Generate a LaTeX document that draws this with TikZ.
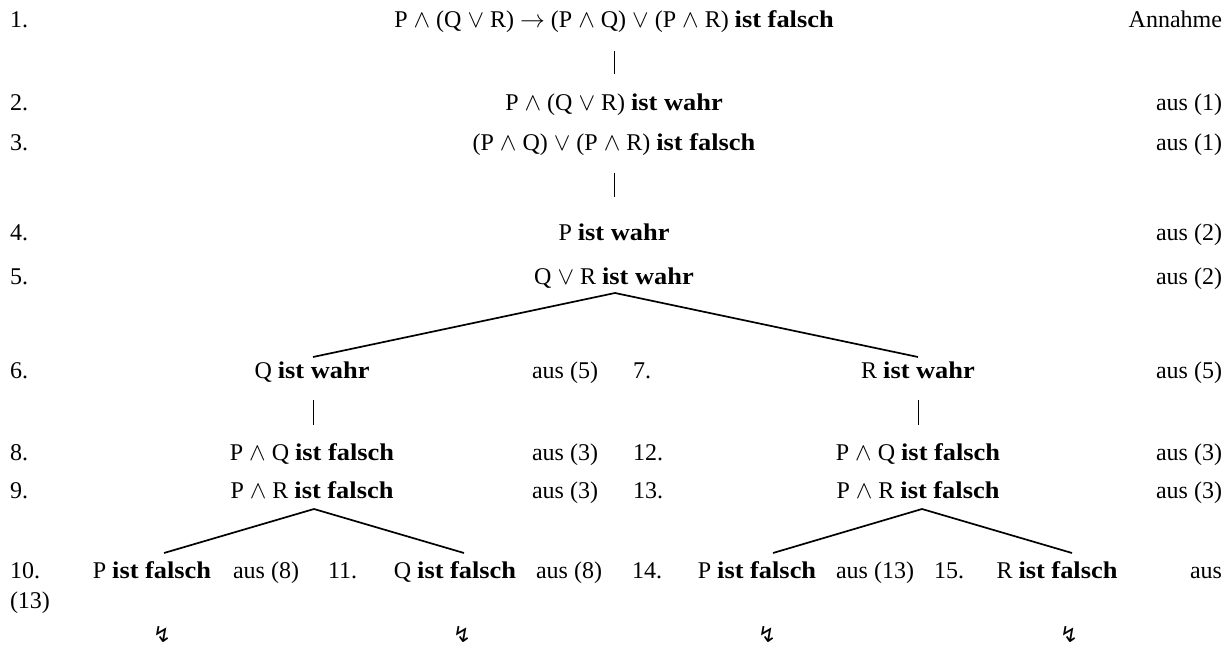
\documentclass[tikz,border=0pt]{standalone}
\usepackage{fontspec}
\setmainfont{Liberation Serif}[BoldFeatures={FakeStretch=1.1}]
\newfontfamily\symfont{DejaVu Sans}
\begin{document}
\begin{tikzpicture}[x=1pt,y=-1pt,
  every node/.style={inner sep=0pt,outer sep=0pt,font=\fontsize{24}{28}\selectfont},
  num/.style={anchor=base west},
  form/.style={anchor=base},
  just/.style={anchor=base east},
  edge/.style={line width=1.7pt},
  bar/.style={line width=0.8pt},
  contra/.style={font=\symfont\fontsize{22}{26}\selectfont,anchor=center}]
\useasboundingbox (0,0) rectangle (1231,652);
\newcommand{\AND}{ $\wedge$ }
\newcommand{\OR}{ $\vee$ }
% row 1
\node[num] (n1) at (10,28) {1.};
\node[form] (f1) at (614,28) {P\AND(Q\OR R) $\rightarrow$ (P\AND Q)\OR(P\AND R) \textbf{ist falsch}};
\node[just] (j1) at (1222,28) {Annahme};
\coordinate (b1a) at (614,51); \coordinate (b1b) at (614,74);
\draw[bar] (b1a) -- (b1b);
% row 2,3
\node[num] (n2) at (10,111) {2.};
\node[form] (f2) at (614,111) {P\AND(Q\OR R) \textbf{ist wahr}};
\node[just] (j2) at (1222,111) {aus (1)};
\node[num] (n3) at (10,151) {3.};
\node[form] (f3) at (614,151) {(P\AND Q)\OR(P\AND R) \textbf{ist falsch}};
\node[just] (j3) at (1222,151) {aus (1)};
\coordinate (b3a) at (614,173); \coordinate (b3b) at (614,197);
\draw[bar] (b3a) -- (b3b);
% row 4,5
\node[num] (n4) at (10,241) {4.};
\node[form] (f4) at (614,241) {P \textbf{ist wahr}};
\node[just] (j4) at (1222,241) {aus (2)};
\node[num] (n5) at (10,284) {5.};
\node[form] (f5) at (614,284) {Q\OR R \textbf{ist wahr}};
\node[just] (j5) at (1222,284) {aus (2)};
\coordinate (a5) at (615,293);
% row 6/7
\node[num] (n6) at (10,378) {6.};
\node[form] (f6) at (312,378) {Q \textbf{ist wahr}};
\node[just] (j6) at (598,378) {aus (5)};
\node[num] (n7) at (633,378) {7.};
\node[form] (f7) at (918,378) {R \textbf{ist wahr}};
\node[just] (j7) at (1222,378) {aus (5)};
\coordinate (e6) at (313,357); \coordinate (e7) at (918,357);
\draw[edge] (e6) -- (a5) -- (e7);
\coordinate (b6a) at (313,400); \coordinate (b6b) at (313,425);
\coordinate (b7a) at (918,400); \coordinate (b7b) at (918,425);
\draw[bar] (b6a) -- (b6b);
\draw[bar] (b7a) -- (b7b);
% rows 8/12 and 9/13
\node[num] (n8) at (10,460) {8.};
\node[form] (f8) at (312,460) {P\AND Q \textbf{ist falsch}};
\node[just] (j8) at (598,460) {aus (3)};
\node[num] (n12) at (633,460) {12.};
\node[form] (f12) at (918,460) {P\AND Q \textbf{ist falsch}};
\node[just] (j12) at (1222,460) {aus (3)};
\node[num] (n9) at (10,498) {9.};
\node[form] (f9) at (312,498) {P\AND R \textbf{ist falsch}};
\node[just] (j9) at (598,498) {aus (3)};
\node[num] (n13) at (633,498) {13.};
\node[form] (f13) at (918,498) {P\AND R \textbf{ist falsch}};
\node[just] (j13) at (1222,498) {aus (3)};
\coordinate (a9) at (314,509); \coordinate (a13) at (922,509);
% row 10
\node[num] (n10) at (10,578) {10.};
\node[form] (f10) at (152,578) {P \textbf{ist falsch}};
\node[just] (j10) at (299,578) {aus (8)};
\node[num] (n11) at (328,578) {11.};
\node[form] (f11) at (455,578) {Q \textbf{ist falsch}};
\node[just] (j11) at (602,578) {aus (8)};
\node[num] (n14) at (632,578) {14.};
\node[form] (f14) at (757,578) {P \textbf{ist falsch}};
\node[just] (j14) at (914,578) {aus (13)};
\node[num] (n15) at (934,578) {15.};
\node[form] (f15) at (1057,578) {R \textbf{ist falsch}};
\node[just] (j15) at (1222,578) {aus};
\node[num] (j15b) at (10,608) {(13)};
\coordinate (e10) at (164,553); \coordinate (e11) at (464,553);
\coordinate (e14) at (773,553); \coordinate (e15) at (1072,553);
\draw[edge] (e10) -- (a9) -- (e11);
\draw[edge] (e14) -- (a13) -- (e15);
% contradictions
\node[contra] (x10) at (162,634) {↯};
\node[contra] (x11) at (462,634) {↯};
\node[contra] (x14) at (767,634) {↯};
\node[contra] (x15) at (1069,634) {↯};
\end{tikzpicture}
\end{document}
